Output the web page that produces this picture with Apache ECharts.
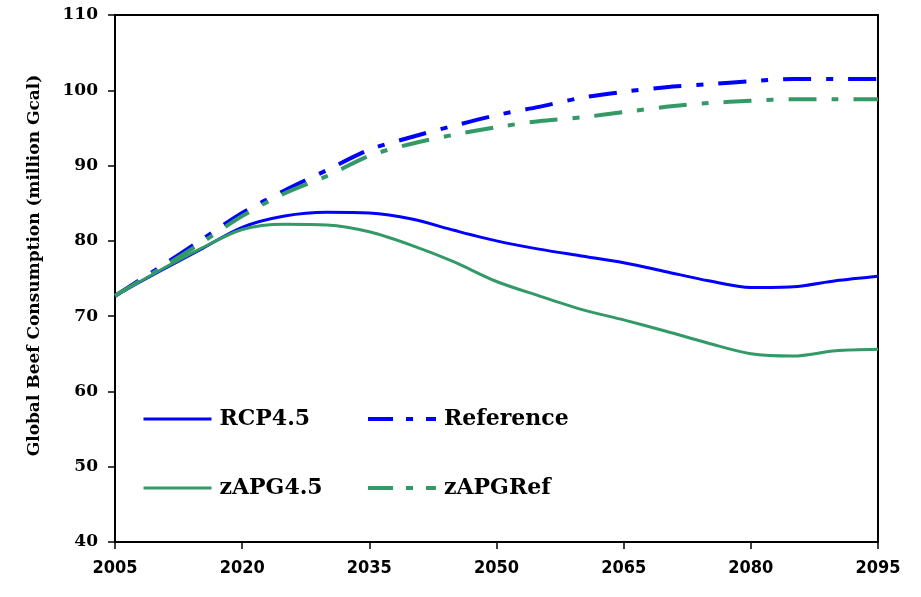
<!DOCTYPE html>
<html>
<head>
<meta charset="utf-8">
<script src="https://cdn.jsdelivr.net/npm/echarts@6/dist/echarts.min.js"></script>
<style>
  html, body { margin: 0; padding: 0; background: #fff; }
  #chart { width: 921px; height: 597px; }
</style>
</head>
<body>
<div id="chart"></div>
<script>
// years every 5 years, labels every 15
const years = ['2005', '2010', '2015', '2020', '2025', '2030', '2035', '2040', '2045', '2050',
  '2055', '2060', '2065', '2070', '2075', '2080', '2085', '2090', '2095'];
const rcp45 = [72.7, 75.8, 78.8, 81.8, 83.3, 83.8, 83.7, 82.9, 81.4, 80.0,
  78.9, 78.0, 77.1, 75.9, 74.7, 73.8, 73.9, 74.7, 75.3];
const reference = [72.7, 76.3, 80.0, 83.7, 86.7, 89.4, 92.1, 93.8, 95.3, 96.7,
  97.8, 99.0, 99.8, 100.4, 100.8, 101.2, 101.5, 101.5, 101.5];
const zapg45 = [72.7, 75.9, 78.9, 81.5, 82.2, 82.1, 81.2, 79.4, 77.2, 74.6,
  72.7, 70.9, 69.5, 68.0, 66.4, 65.0, 64.7, 65.4, 65.6];
const zapgRef = [72.7, 76.1, 79.6, 83.3, 86.3, 88.6, 91.3, 92.9, 94.1, 95.1,
  95.9, 96.4, 97.1, 97.8, 98.3, 98.6, 98.8, 98.8, 98.8];

const BLUE = '#0000FF';
const GREEN = '#339966';
const dashDot = [28, 15, 7, 15];
const serif = '"DejaVu Serif", "Liberation Serif", serif';

const chart = echarts.init(document.getElementById('chart'));

function legendAt(name, left, top, dashed) {
  return {
    data: [name],
    left: left,
    top: top,
    padding: 0,
    itemWidth: 68,
    itemHeight: 22,
    selectedMode: false,
    itemStyle: { opacity: 0 },
    lineStyle: { width: dashed ? 4 : 3, type: dashed ? [25, 13, 7, 13] : 'solid' },
    textStyle: { fontFamily: serif, fontWeight: 'bold', fontSize: 22, color: '#000', padding: [0, 0, 0, 3] }
  };
}

function line(name, data, color, dashed) {
  return {
    name: name,
    type: 'line',
    data: data,
    smooth: 0.3,
    symbol: 'none',
    lineStyle: { color: color, width: dashed ? 4 : 3, type: dashed ? dashDot : 'solid' },
    itemStyle: { color: color },
    z: dashed ? 3 : 2
  };
}

const option = {
  animation: false,
  backgroundColor: '#fff',
  grid: {
    left: 115, right: 43, top: 15, bottom: 55,
    show: true, borderColor: '#000', borderWidth: 2, backgroundColor: 'transparent'
  },
  legend: [
    legendAt('RCP4.5', 142, 408, false),
    legendAt('Reference', 366, 408, true),
    legendAt('zAPG4.5', 142, 477, false),
    legendAt('zAPGRef', 366, 477, true)
  ],
  xAxis: {
    type: 'category',
    data: years,
    boundaryGap: false,
    axisLine: { lineStyle: { color: '#000', width: 2 } },
    axisTick: { interval: 2, length: 7, lineStyle: { color: '#000', width: 1.5 } },
    axisLabel: {
      interval: 2, margin: 17, color: '#000', fontSize: 18, fontWeight: 'bold condensed',
      fontFamily: '"DejaVu Sans", sans-serif',
      showMinLabel: true, showMaxLabel: true
    },
    splitLine: { show: false }
  },
  yAxis: {
    type: 'value',
    min: 40, max: 110, interval: 10,
    name: 'Global Beef Consumption (million Gcal)',
    nameLocation: 'middle',
    nameGap: 72,
    nameTextStyle: { fontFamily: serif, fontWeight: 'bold', fontSize: 17, color: '#000', padding: [0, 0, 0, 26] },
    axisLine: { show: true, lineStyle: { color: '#000', width: 2 } },
    axisTick: { show: true, length: 7, lineStyle: { color: '#000', width: 1.5 } },
    axisLabel: { margin: 17, color: '#000', fontSize: 17, fontWeight: 'bold', fontFamily: serif },
    splitLine: { show: false }
  },
  series: [
    line('RCP4.5', rcp45, BLUE, false),
    line('Reference', reference, BLUE, true),
    line('zAPG4.5', zapg45, GREEN, false),
    line('zAPGRef', zapgRef, GREEN, true)
  ]
};

chart.setOption(option);
</script>
</body>
</html>
